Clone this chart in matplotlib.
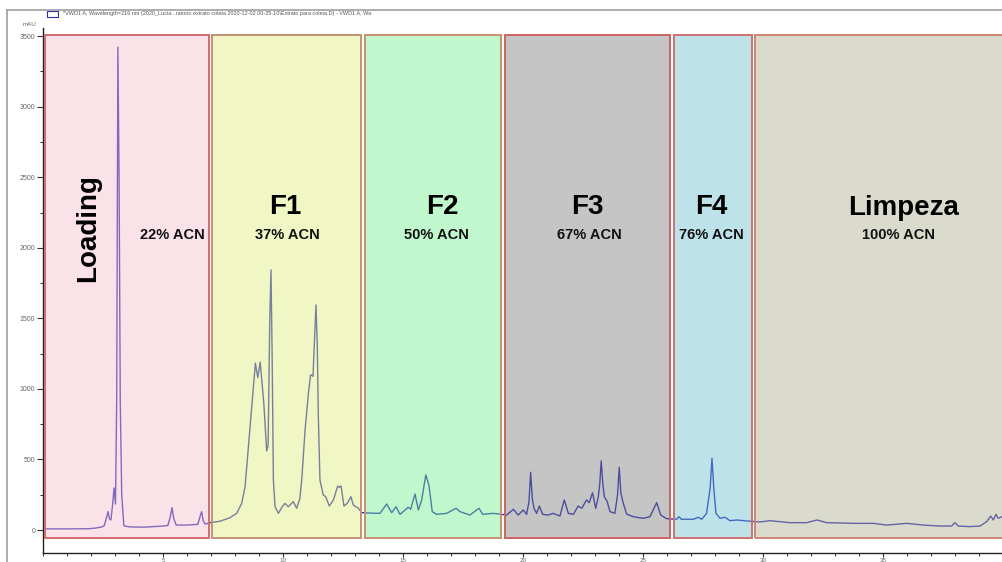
import matplotlib
matplotlib.use("Agg")
import matplotlib.pyplot as plt
from matplotlib.patches import Rectangle
from matplotlib.lines import Line2D
from matplotlib.ticker import MultipleLocator

plt.rcParams['font.family'] = ['Liberation Sans', 'DejaVu Sans']

# ---- chromatogram trace (time in min, absorbance in mAU) ----
time_min = [0.0, 1.0, 1.9, 2.2, 2.45, 2.55, 2.65, 2.71, 2.77, 2.83, 2.9, 2.96, 3.02,
            3.07, 3.12, 3.17, 3.22, 3.28, 3.37, 3.6, 4.2, 5.0, 5.2, 5.3, 5.375, 5.45,
            5.55, 6.0, 6.45, 6.55, 6.61, 6.67, 6.75, 6.96, 7.375, 7.79, 8.07, 8.28,
            8.42, 8.56, 8.70, 8.79, 8.85, 8.95, 9.05, 9.2, 9.32, 9.38, 9.45, 9.5,
            9.55, 9.6, 9.67, 9.81, 9.95, 10.08, 10.22, 10.43, 10.57, 10.7, 10.78,
            10.92, 11.06, 11.15, 11.25, 11.375, 11.43, 11.47, 11.54, 11.68, 11.78,
            11.93, 12.1, 12.28, 12.35, 12.42, 12.54, 12.68, 12.83, 12.93, 13.14,
            13.28, 13.6, 14.04, 14.32, 14.53, 14.71, 14.875, 15.22, 15.32, 15.5,
            15.64, 15.78, 15.95, 16.08, 16.22, 16.4, 16.82, 17.21, 17.375, 17.79,
            18.17, 18.32, 18.76, 19.32, 19.6, 19.8, 20.01, 20.15, 20.25, 20.32,
            20.39, 20.46, 20.57, 20.68, 20.82, 21.05, 21.26, 21.54, 21.72, 21.89,
            22.1, 22.3, 22.45, 22.65, 22.76, 22.9, 23.03, 23.14, 23.2, 23.26, 23.33,
            23.39, 23.51, 23.625, 23.83, 23.94, 24.01, 24.08, 24.18, 24.32, 24.6,
            25.01, 25.29, 25.57, 25.74, 25.99, 26.4, 26.5, 26.6, 27.1, 27.3, 27.45,
            27.65, 27.8, 27.875, 27.95, 28.04, 28.21, 28.42, 28.625, 28.9, 29.32,
            29.875, 30.29, 31.125, 31.82, 32.26, 32.65, 33.9, 34.6, 35.15, 35.99,
            36.68, 37.375, 37.86, 38.0, 38.14, 38.625, 39.04, 39.32, 39.49, 39.6,
            39.71, 39.8, 39.96]
absorbance_mau = [8, 8, 9, 14, 22, 30, 90, 130, 80, 71, 180, 298, 184,
                  900, 3423, 2500, 900, 250, 30, 22, 20, 28, 32, 90, 158, 80,
                  35, 35, 40, 100, 130, 70, 42, 52, 62, 87, 118, 189,
                  307, 590, 874, 1063, 1183, 1080, 1190, 900, 560, 600, 1500, 1843,
                  1200, 354, 165, 118, 160, 189, 165, 201, 154, 220, 354,
                  709, 969, 1100, 1090, 1595, 1300, 827, 354, 248, 236,
                  170, 213, 312, 302, 312, 170, 189, 236, 177, 154,
                  123, 120, 118, 184, 123, 165, 111, 161, 147, 255,
                  142, 213, 390, 319, 130, 111, 118, 154, 130, 106,
                  154, 111, 118, 106, 147, 106, 142, 111, 200, 409,
                  220, 154, 118, 170, 111, 106, 118, 99, 213, 118,
                  111, 170, 154, 213, 194, 264, 154, 236, 330, 491, 320,
                  236, 201, 130, 118, 250, 444, 260, 189, 113, 94,
                  83, 94, 194, 106, 80, 76, 94, 76, 76, 90, 76,
                  118, 300, 508, 300, 118, 83, 90, 66, 71, 64,
                  57, 66, 52, 52, 71, 52, 47, 47, 35, 47,
                  35, 28, 28, 52, 28, 24, 28, 59, 99, 71,
                  111, 83, 94]

# ---- fraction boxes ----
box_labels = ['Loading', 'F1', 'F2', 'F3', 'F4', 'Limpeza']
box_start = [0.08, 7.04, 13.42, 19.25, 26.29, 29.67]
box_end = [6.92, 13.25, 19.08, 26.13, 29.54, 41.0]
box_acn = ['22% ACN', '37% ACN', '50% ACN', '67% ACN', '76% ACN', '100% ACN']
box_colors = [(248, 191, 204), (222, 239, 124), (119, 239, 142),
              (128, 128, 128), (110, 191, 208), (177, 177, 146)]
box_edges = ['#d46a72', '#c49272', '#c8906e', '#d06262', '#d07070', '#d08474']

W, H = 1002, 562
fig = plt.figure(figsize=(W / 100, H / 100), dpi=100)
fig.patch.set_facecolor('white')
ax = fig.add_axes([43 / W, 9 / H, (W - 43) / W, (553 - 28) / H])

ax.plot(time_min, absorbance_mau, color='#2424b4', lw=1.0, zorder=2)

ymin_box, ymax_box = -57, 3510
for s, e, c, ec in zip(box_start, box_end, box_colors, box_edges):
    ax.add_patch(Rectangle((s, ymin_box), e - s, ymax_box - ymin_box,
                           facecolor=(c[0] / 255, c[1] / 255, c[2] / 255, 0.45),
                           edgecolor='none', zorder=3))
    ax.add_patch(Rectangle((s, ymin_box), e - s, ymax_box - ymin_box,
                           facecolor='none', edgecolor=ec, lw=1.4, zorder=3.5))

# titles
title_pos = [(1.875, 2140), (10.08, 2289), (16.625, 2289), (22.67, 2289),
             (27.83, 2289), (35.875, 2282)]
acn_pos = [(5.375, 2091), (10.17, 2091), (16.375, 2091), (22.75, 2091),
           (27.83, 2091), (35.63, 2091)]
for i, (lab, (tx, ty)) in enumerate(zip(box_labels, title_pos)):
    ax.text(tx, ty, lab, fontsize=20, fontweight='bold', ha='center', va='center',
            rotation=90 if i == 0 else 0, zorder=5, color='black')
for lab, (tx, ty) in zip(box_acn, acn_pos):
    ax.text(tx, ty, lab, fontsize=10.5, fontweight='bold', ha='center', va='center',
            zorder=5, color='#111111')

ax.set_xlim(0, 39.96)
ax.set_ylim(-163, 3558)
for sp in ['top', 'right']:
    ax.spines[sp].set_visible(False)
for sp in ['left', 'bottom']:
    ax.spines[sp].set_color('#222222')
    ax.spines[sp].set_linewidth(1.0)
ax.xaxis.set_minor_locator(MultipleLocator(1))
ax.yaxis.set_minor_locator(MultipleLocator(250))
ax.set_xticks([5, 10, 15, 20, 25, 30, 35])
ax.set_yticks([0, 500, 1000, 1500, 2000, 2500, 3000, 3500])
ax.tick_params(axis='y', which='major', length=4, width=0.8, color='#333333',
               labelsize=5, labelcolor='#666666', pad=1.5)
ax.tick_params(axis='x', which='major', length=3, width=0.8, color='#333333',
               labelsize=4.5, labelcolor='#666666', pad=0.3)
ax.tick_params(axis='both', which='minor', length=2.5, width=0.7, color='#333333')

# header: frame lines, legend, units
fig.add_artist(Line2D([7 / W, 7 / W], [0, 1 - 10 / H], color='#a0a0a0', lw=1.2))
fig.add_artist(Line2D([7 / W, 1], [1 - 10 / H, 1 - 10 / H], color='#a0a0a0', lw=1.2))
fig.add_artist(Rectangle((47 / W, 1 - 17 / H), 11 / W, 6 / H, facecolor='white',
                         edgecolor='#3030a0', lw=0.8, transform=fig.transFigure))
fig.text(63 / W, 1 - 14 / H,
         '*VWD1 A, Wavelength=216 nm (2020_Lucia...ratorio extrato coleta 2020-12-02 00-25-10\\Extrato para coleta.D) - VWD1 A, Wa',
         fontsize=4, color='#555555', va='center', ha='left')
fig.text(30 / W, 1 - 24 / H, 'mAU', fontsize=4.5, color='#666666', va='center', ha='center')

fig.savefig('out.png', dpi=100, facecolor='white')
